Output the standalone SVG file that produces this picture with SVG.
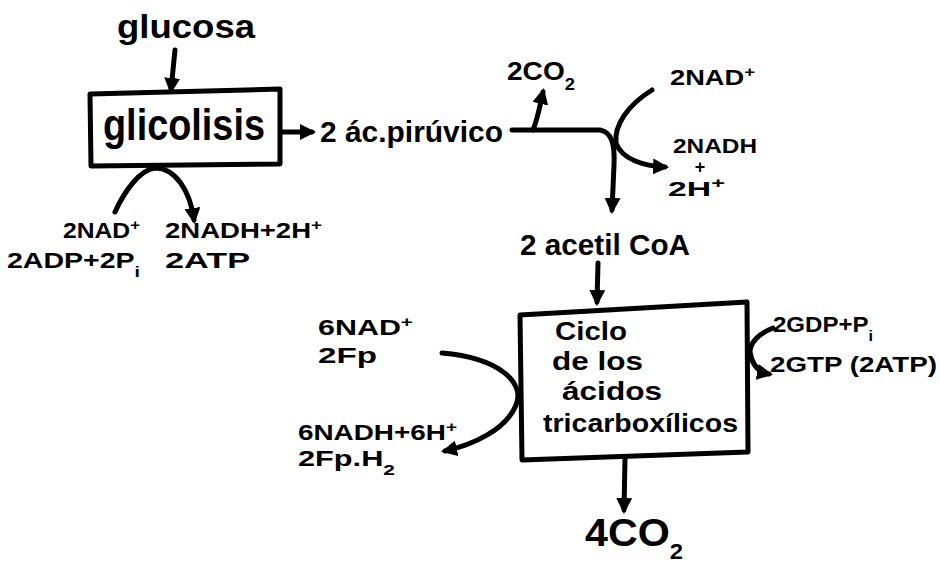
<svg xmlns="http://www.w3.org/2000/svg" width="940" height="568" viewBox="0 0 940 568">
<defs>
<marker id="ah" markerUnits="userSpaceOnUse" viewBox="0 0 16 16" markerWidth="16" markerHeight="16" refX="12" refY="8" orient="auto">
<path d="M0,0 L16,8 L0,16 z" fill="#000"/>
</marker>
<style>
.t{font-family:"Liberation Sans","DejaVu Sans",sans-serif;font-weight:bold;fill:#000}
.c{fill:none;stroke:#000;stroke-width:5;stroke-linecap:round;stroke-linejoin:round}
.a{marker-end:url(#ah)}
.box{fill:#fff;stroke:#000;stroke-width:5;stroke-linejoin:round}
</style>
</defs>
<rect width="940" height="568" fill="#fff"/>

<g id="connectors">
<path class="c a" d="M175,50 L171,90"/>
<path class="c a" d="M281,132 L312,132"/>
<path class="c a" d="M512,130 L600,130 C612,132 615,145 614,165 L612,210"/>
<path class="c a" d="M533,130 C538,118 540,105 543,92"/>
<path class="c a" d="M652,90 C628,105 614,125 616,143 C622,160 645,166 665,167"/>
<path class="c a" d="M598,263 L597,302"/>
<path class="c a" d="M625,458 L624,510"/>
<path class="c a" d="M442,353 C500,358 525,383 516,405 C506,430 472,445 445,451"/>
<path class="c a" d="M773,328 C760,333 750,342 750,352 C752,365 758,372 769,374"/>
<path class="c a" d="M115,212 C125,190 140,170 155,168 C175,168 190,190 194,220"/>
</g>

<g id="glucosa">
<text class="t" x="117" y="38" font-size="34" textLength="138" lengthAdjust="spacingAndGlyphs">glucosa</text>
</g>

<g id="glicolisis">
<path class="box" d="M90,94 L280,89 L280,164 L91,166 Z"/>
<text class="t" x="103" y="140" font-size="44" textLength="162" lengthAdjust="spacingAndGlyphs">glicolisis</text>
</g>

<g id="glicolisis-in">
<text class="t" x="63" y="238" font-size="22" textLength="77" lengthAdjust="spacingAndGlyphs">2NAD<tspan font-size="15" baseline-shift="super">+</tspan></text>
<text class="t" x="7" y="268" font-size="22" textLength="133" lengthAdjust="spacingAndGlyphs">2ADP+2P<tspan font-size="15" baseline-shift="sub">i</tspan></text>
</g>

<g id="glicolisis-out">
<text class="t" x="165" y="238" font-size="22" textLength="157" lengthAdjust="spacingAndGlyphs">2NADH+2H<tspan font-size="15" baseline-shift="super">+</tspan></text>
<text class="t" x="165" y="268" font-size="22" textLength="85" lengthAdjust="spacingAndGlyphs">2ATP</text>
</g>

<g id="piruvico">
<text class="t" x="320" y="142" font-size="30" textLength="183" lengthAdjust="spacingAndGlyphs">2 ác.pirúvico</text>
</g>

<g id="co2-top">
<text class="t" x="507" y="80" font-size="26" textLength="68" lengthAdjust="spacingAndGlyphs">2CO<tspan font-size="17" baseline-shift="sub">2</tspan></text>
</g>

<g id="nad-top">
<text class="t" x="670" y="85" font-size="22" textLength="85" lengthAdjust="spacingAndGlyphs">2NAD<tspan font-size="15" baseline-shift="super">+</tspan></text>
</g>

<g id="nadh-top">
<text class="t" x="673" y="153" font-size="20" textLength="84" lengthAdjust="spacingAndGlyphs">2NADH</text>
<text class="t" x="700" y="173" font-size="18" text-anchor="middle">+</text>
<text class="t" x="668" y="196" font-size="20" textLength="57" lengthAdjust="spacingAndGlyphs">2H<tspan font-size="14" baseline-shift="super">+</tspan></text>
</g>

<g id="acetilcoa">
<text class="t" x="520" y="255" font-size="30" textLength="170" lengthAdjust="spacingAndGlyphs">2 acetil CoA</text>
</g>

<g id="ciclo">
<path class="box" d="M520,315 L747,302 L748,452 L522,460 Z"/>
<text class="t" x="555" y="340" font-size="26" textLength="72" lengthAdjust="spacingAndGlyphs">Ciclo</text>
<text class="t" x="552" y="370" font-size="26" textLength="91" lengthAdjust="spacingAndGlyphs">de los</text>
<text class="t" x="562" y="400" font-size="26" textLength="100" lengthAdjust="spacingAndGlyphs">ácidos</text>
<text class="t" x="543" y="432" font-size="26" textLength="195" lengthAdjust="spacingAndGlyphs">tricarboxílicos</text>
</g>

<g id="ciclo-in-left">
<text class="t" x="318" y="335" font-size="22" textLength="95" lengthAdjust="spacingAndGlyphs">6NAD<tspan font-size="15" baseline-shift="super">+</tspan></text>
<text class="t" x="318" y="363" font-size="22" textLength="59" lengthAdjust="spacingAndGlyphs">2Fp</text>
</g>

<g id="ciclo-out-left">
<text class="t" x="298" y="440" font-size="22" textLength="159" lengthAdjust="spacingAndGlyphs">6NADH+6H<tspan font-size="15" baseline-shift="super">+</tspan></text>
<text class="t" x="298" y="466" font-size="22" textLength="97" lengthAdjust="spacingAndGlyphs">2Fp.H<tspan font-size="15" baseline-shift="sub">2</tspan></text>
</g>

<g id="ciclo-in-right">
<text class="t" x="773" y="332" font-size="22" textLength="100" lengthAdjust="spacingAndGlyphs">2GDP+P<tspan font-size="15" baseline-shift="sub">i</tspan></text>
</g>

<g id="ciclo-out-right">
<text class="t" x="770" y="372" font-size="22" textLength="167" lengthAdjust="spacingAndGlyphs">2GTP (2ATP)</text>
</g>

<g id="co2-bottom">
<text class="t" x="585" y="546" font-size="38" textLength="98" lengthAdjust="spacingAndGlyphs">4CO<tspan font-size="22" baseline-shift="sub">2</tspan></text>
</g>
</svg>
